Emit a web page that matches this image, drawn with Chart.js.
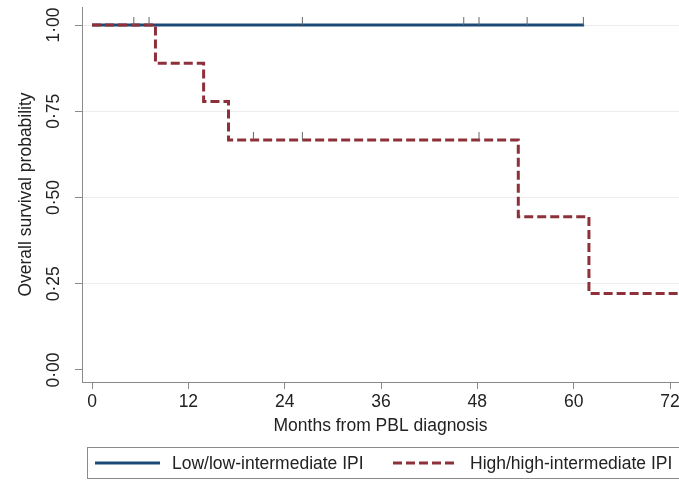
<!DOCTYPE html>
<html>
<head>
<meta charset="utf-8">
<script src="https://cdn.jsdelivr.net/npm/chart.js@4.4.1/dist/chart.umd.min.js"></script>
<style>
  html, body { margin: 0; padding: 0; background: #fff; }
  #wrap { width: 679px; height: 484px; }
</style>
</head>
<body>
<div id="wrap"><canvas id="kmChart"></canvas></div>
<script>
// Kaplan-Meier survival by IPI group (months from diagnosis)
const lowTimes = [0, 61.3];
const lowSurv = [1, 1];
const highTimes = [0, 7.9, 13.9, 17.0, 53.1, 61.9, 76];
const highSurv = [1, 0.889, 0.778, 0.667, 0.444, 0.222, 0.222];

// censored follow-up times
const lowCensored = [5.2, 7.1, 26.2, 46.3, 48.2, 54.2, 61.2];
const highCensored = [20.1, 26.2, 48.2];

const xTicks = [0, 12, 24, 36, 48, 60, 72];
const yTicks = [0, 0.25, 0.5, 0.75, 1];
const seriesLabels = ['Low/low-intermediate IPI', 'High/high-intermediate IPI'];

const FONT_FAMILY = "'Liberation Sans', Arial, sans-serif";
const FONT_SIZE = 17.5;
const TEXT = '#222';
const AXIS = '#8a8a8a';

function toPoints(xs, ys) {
  return xs.map((x, i) => ({ x: x, y: ys[i] }));
}

// survival value of a step curve at time t
function survAt(times, surv, t) {
  let s = surv[0];
  for (let i = 0; i < times.length; i++) {
    if (times[i] <= t) s = surv[i];
  }
  return s;
}

// small upward tick used for censor marks
const censorMark = document.createElement('canvas');
censorMark.width = 3;
censorMark.height = 16;
(function () {
  const c = censorMark.getContext('2d');
  c.fillStyle = '#666';
  c.fillRect(1, 0, 1, 8);
})();

// boxed legend with line samples
const boxLegend = {
  id: 'boxLegend',
  afterDraw(chart) {
    const ctx = chart.ctx;
    const cy = 463;
    ctx.save();
    ctx.strokeStyle = AXIS;
    ctx.lineWidth = 1;
    ctx.strokeRect(87.5, 447.5, 620, 31);
    const items = [
      { ds: chart.data.datasets[0], x: 95 },
      { ds: chart.data.datasets[1], x: 393 }
    ];
    items.forEach(it => {
      ctx.setLineDash(it.ds.borderDash || []);
      ctx.strokeStyle = it.ds.borderColor;
      ctx.lineWidth = it.ds.borderWidth;
      ctx.beginPath();
      ctx.moveTo(it.x, cy);
      ctx.lineTo(it.x + 65, cy);
      ctx.stroke();
      ctx.setLineDash([]);
      ctx.fillStyle = TEXT;
      ctx.font = FONT_SIZE + 'px ' + FONT_FAMILY;
      ctx.textBaseline = 'middle';
      ctx.fillText(it.ds.label, it.x + 77, cy + 1);
    });
    ctx.restore();
  }
};

const font = { family: FONT_FAMILY, size: FONT_SIZE };

new Chart(document.getElementById('kmChart').getContext('2d'), {
  type: 'line',
  data: {
    datasets: [
      {
        label: seriesLabels[0],
        data: toPoints(lowTimes, lowSurv),
        borderColor: '#1c4a76',
        borderWidth: 3,
        stepped: 'before',
        pointRadius: 0,
        order: 2
      },
      {
        label: seriesLabels[1],
        data: toPoints(highTimes, highSurv),
        borderColor: '#8e3039',
        borderWidth: 3,
        borderDash: [9, 4],
        stepped: 'before',
        pointRadius: 0,
        order: 1
      },
      {
        label: 'censored low',
        data: lowCensored.map(t => ({ x: t, y: survAt(lowTimes, lowSurv, t) })),
        showLine: false,
        pointStyle: censorMark,
        order: 0
      },
      {
        label: 'censored high',
        data: highCensored.map(t => ({ x: t, y: survAt(highTimes, highSurv, t) })),
        showLine: false,
        pointStyle: censorMark,
        order: 0
      }
    ]
  },
  options: {
    responsive: true,
    maintainAspectRatio: false,
    animation: false,
    layout: { autoPadding: false, padding: { top: 7, right: 0, bottom: 44, left: 0 } },
    plugins: {
      legend: { display: false },
      tooltip: { enabled: false }
    },
    scales: {
      x: {
        type: 'linear',
        min: -1.25,
        max: 73.12,
        afterBuildTicks: s => { s.ticks = xTicks.map(v => ({ value: v })); },
        afterFit: s => { s.height = 58; s.paddingLeft = 0; s.paddingRight = 0; },
        grid: { drawOnChartArea: false, tickLength: 7, tickColor: AXIS },
        border: { color: AXIS },
        ticks: { padding: 3, color: TEXT, font: font, maxRotation: 0 },
        title: {
          display: true,
          text: 'Months from PBL diagnosis',
          color: TEXT,
          font: font,
          padding: { top: 0, bottom: 3 }
        }
      },
      y: {
        type: 'linear',
        min: -0.0348,
        max: 1.0522,
        afterBuildTicks: s => { s.ticks = yTicks.map(v => ({ value: v })); },
        afterFit: s => { s.width = 82; s.paddingTop = 0; s.paddingBottom = 0; },
        grid: {
          color: c => (c.tick && c.tick.value === 0) ? 'rgba(0,0,0,0)' : '#ececec',
          tickColor: AXIS,
          tickLength: 7
        },
        border: { color: AXIS },
        ticks: {
          minRotation: 90,
          maxRotation: 90,
          crossAlign: 'center',
          padding: 3,
          color: TEXT,
          font: font,
          callback: v => v.toFixed(2).replace('.', '\u00b7')
        },
        title: {
          display: true,
          text: 'Overall survival probability',
          color: TEXT,
          font: font,
          padding: { top: 16, bottom: 0 }
        }
      }
    }
  },
  plugins: [boxLegend]
});
</script>
</body>
</html>
